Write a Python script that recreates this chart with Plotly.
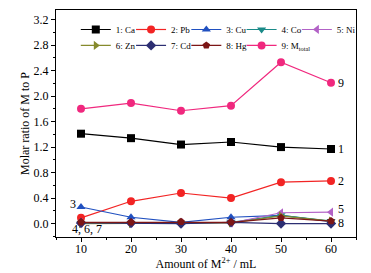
import plotly.graph_objects as go

amount = [10, 20, 30, 40, 50, 60]
ca = [1.41, 1.34, 1.24, 1.28, 1.20, 1.17]
pb = [0.09, 0.35, 0.48, 0.40, 0.65, 0.67]
cu = [0.26, 0.10, 0.02, 0.10, 0.13, 0.03]
co = [0.01, 0.01, 0.01, 0.02, 0.13, 0.04]
ni = [0.01, 0.01, 0.01, 0.01, 0.17, 0.18]
zn = [0.00, 0.00, 0.01, 0.01, 0.12, 0.04]
cd = [0.01, 0.01, 0.00, 0.02, 0.00, 0.00]
hg = [0.02, 0.02, 0.03, 0.02, 0.09, 0.04]
mtotal = [1.80, 1.89, 1.77, 1.85, 2.53, 2.21]

names = ["1: Ca", "2: Pb", "3: Cu", "4: Co", "5: Ni",
         "6: Zn", "7: Cd", "8: Hg", "9: M<sub>total</sub>"]
series = [ca, pb, cu, co, ni, zn, cd, hg, mtotal]
colors = ["#000000", "#f22424", "#2050c0", "#1a8a88", "#b262c6",
          "#868a2c", "#2c2e72", "#7c1616", "#f0287e"]
symbols = ["square", "circle", "triangle-up", "triangle-down", "triangle-left",
           "triangle-right", "diamond", "pentagon", "circle"]
# legend grid: (row, column) of each entry
leg_row = [0, 0, 0, 0, 0, 1, 1, 1, 1]
leg_col = [0, 1, 2, 3, 4, 0, 1, 2, 3]

FONT = "Liberation Serif"
PLOT_W = 371 - 56 - 11
LEG_X0 = 0.066
LEG_STEP = 56 / PLOT_W
ROW_Y = [0.978, 0.908]

fig = go.Figure()
layout_legends = {}
for i, (nm, ys, c, s) in enumerate(zip(names, series, colors, symbols)):
    key = "legend" if i == 0 else f"legend{i + 1}"
    fig.add_trace(go.Scatter(
        x=amount, y=ys, name=nm, mode="lines+markers",
        line=dict(color=c, width=1.2),
        marker=dict(symbol=s, size=8, color=c),
        legend=key,
    ))
    layout_legends[key] = dict(
        orientation="h", xanchor="left", yanchor="top",
        x=LEG_X0 + leg_col[i] * LEG_STEP, y=ROW_Y[leg_row[i]],
        bgcolor="rgba(0,0,0,0)", tracegroupgap=0,
        font=dict(family=FONT, size=9, color="black"))

ann = []
for txt, ys, ysh in [("1", ca, 0), ("2", pb, 0), ("5", ni, 3), ("8", hg, -2), ("9", mtotal, 0)]:
    ann.append(dict(x=amount[-1], y=ys[-1], text=txt, showarrow=False, yshift=ysh,
                    xanchor="left", xshift=5, font=dict(family=FONT, size=12, color="black")))
ann.append(dict(x=amount[0], y=cu[0], text="3", showarrow=False, xanchor="right",
                xshift=-3, yshift=3, font=dict(family=FONT, size=12, color="black")))
ann.append(dict(x=amount[0], y=0, text="4, 6, 7", showarrow=False, xanchor="center",
                yanchor="top", xshift=6, yshift=4, font=dict(family=FONT, size=12, color="black")))

axis_common = dict(showline=True, linecolor="black", linewidth=1, mirror=True,
                   ticks="outside", ticklen=4, tickcolor="black", showgrid=False,
                   zeroline=False, automargin=False,
                   tickfont=dict(family=FONT, size=12, color="black"))

fig.update_layout(
    template="none",
    width=371, height=273,
    margin=dict(l=56, r=11, t=10, b=36),
    paper_bgcolor="white", plot_bgcolor="white",
    font=dict(family=FONT, color="black"),
    xaxis=dict(range=[5, 65], tick0=0, dtick=10, ticklabelstandoff=-3,
               minor=dict(ticks="outside", ticklen=2, dtick=5, tickcolor="black"),
               title=dict(text="Amount of M<sup>2+</sup> / mL", font=dict(family=FONT, size=12), standoff=0),
               **axis_common),
    yaxis=dict(range=[-0.21, 3.35], tick0=0, dtick=0.4, tickformat=".1f",
               minor=dict(ticks="outside", ticklen=2, dtick=0.2, tickcolor="black"),
               title=dict(text="Molar ratio of M to P", font=dict(family=FONT, size=12), standoff=1),
               **axis_common),
    annotations=ann,
    showlegend=True,
    **layout_legends,
)

fig.write_html("out.html", config={"displayModeBar": False},
               post_script="document.body.style.margin='0';")
